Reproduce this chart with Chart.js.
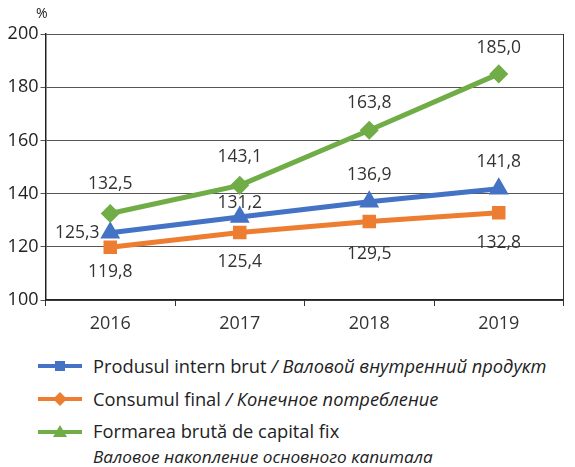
<!DOCTYPE html>
<html>
<head>
<meta charset="utf-8">
<script src="https://cdn.jsdelivr.net/npm/chart.js@4/dist/chart.umd.min.js"></script>
<style>
  html, body { margin: 0; padding: 0; background: #fff; }
  body { width: 575px; height: 467px; position: relative; overflow: hidden; font-family: "Open Sans", "Noto Sans", sans-serif; color: #222; }
  #wrap { position: absolute; left: 0; top: 0; width: 575px; height: 345px; }
  #pct { position: absolute; left: 36px; top: 3px; font-size: 14px; color: #222; }
  .leg { position: absolute; left: 38px; display: flex; align-items: center; font-size: 18.3px; color: #222; white-space: nowrap; }
  .leg svg { margin-right: 11px; }
  .leg i { font-style: italic; }
  #l4 { position: absolute; left: 93px; top: 445px; font-size: 17.2px; font-style: italic; color: #222; white-space: nowrap; }
</style>
</head>
<body>
<div id="wrap"><canvas id="c" width="575" height="345"></canvas></div>
<div id="pct">%</div>
<div class="leg" style="top:353px">
  <svg width="44" height="14"><line x1="0" y1="7" x2="44" y2="7" stroke="#4472C4" stroke-width="4"/><rect x="17" y="2" width="10" height="10" fill="#4472C4"/></svg>
  <span>Produsul intern brut <i>/ Валовой внутренний продукт</i></span>
</div>
<div class="leg" style="top:386px">
  <svg width="44" height="14"><line x1="0" y1="7" x2="44" y2="7" stroke="#ED7D31" stroke-width="4"/><polygon points="22,0 29,7 22,14 15,7" fill="#ED7D31"/></svg>
  <span>Consumul final <i>/ Конечное потребление</i></span>
</div>
<div class="leg" style="top:418px">
  <svg width="44" height="14"><line x1="0" y1="8" x2="44" y2="8" stroke="#70AD47" stroke-width="4"/><polygon points="22,1 29,13 15,13" fill="#70AD47"/></svg>
  <span>Formarea brută de capital fix</span>
</div>
<div id="l4">Валовое накопление основного капитала</div>
<script>
const years = ['2016', '2017', '2018', '2019'];
const pib = [125.3, 131.2, 136.9, 141.8];
const consum = [119.8, 125.4, 129.5, 132.8];
const fbcf = [132.5, 143.1, 163.8, 185.0];
const yTicks = [100, 120, 140, 160, 180, 200];

const fmt = v => v.toFixed(1).replace('.', ',');
const FONT = '"Open Sans", "Noto Sans", sans-serif';

const labelPlugin = {
  id: 'valLabels',
  afterDatasetsDraw(chart) {
    const ctx = chart.ctx;
    ctx.save();
    ctx.font = '17.5px ' + FONT;
    ctx.fillStyle = '#333';
    ctx.textBaseline = 'middle';
    chart.data.datasets.forEach((ds, di) => {
      const meta = chart.getDatasetMeta(di);
      meta.data.forEach((pt, i) => {
        const pos = ds.labelPos[i];
        let x = pt.x, y = pt.y;
        ctx.textAlign = 'center';
        if (pos.left) { x -= pos.left; }
        y += pos.dy;
        ctx.fillText(fmt(ds.data[i]), x, y);
      });
    });
    ctx.restore();
  }
};

new Chart(document.getElementById('c'), {
  type: 'line',
  data: {
    labels: years,
    datasets: [
      {
        label: 'Formarea brută de capital fix',
        data: fbcf,
        borderColor: '#70AD47', backgroundColor: '#70AD47',
        borderWidth: 5, pointStyle: 'rectRot', pointRadius: 6, pointHoverRadius: 6,
        labelPos: [{dy: -30}, {dy: -28}, {dy: -27}, {dy: -26}]
      },
      {
        label: 'Produsul intern brut',
        data: pib,
        borderColor: '#4472C4', backgroundColor: '#4472C4',
        borderWidth: 5, pointStyle: 'triangle', pointRadius: 6.5, pointHoverRadius: 6.5,
        labelPos: [{dy: 0, left: 33}, {dy: -14}, {dy: -27}, {dy: -27}]
      },
      {
        label: 'Consumul final',
        data: consum,
        borderColor: '#ED7D31', backgroundColor: '#ED7D31',
        borderWidth: 5, pointStyle: 'rect', pointRadius: 6, pointHoverRadius: 6,
        labelPos: [{dy: 25}, {dy: 30}, {dy: 32}, {dy: 30}]
      }
    ]
  },
  options: {
    responsive: false,
    animation: false,
    events: [],
    layout: { padding: { top: 34, left: 0, right: 0, bottom: 0 } },
    plugins: { legend: { display: false }, tooltip: { enabled: false } },
    scales: {
      x: {
        offset: true,
        grid: { drawOnChartArea: false, tickLength: 6, color: '#333', offset: true },
        border: { color: '#222', width: 1.5 },
        ticks: { color: '#333', font: { size: 18, family: FONT }, padding: 7 },
        afterFit: s => { s.height = 45; }
      },
      y: {
        min: 100, max: 200,
        afterBuildTicks: s => { s.ticks = yTicks.map(v => ({ value: v })); },
        grid: { color: '#555', tickLength: 5, lineWidth: 1 },
        border: { color: '#222', width: 1.5 },
        ticks: { color: '#222', font: { size: 18, family: FONT }, padding: 2 },
        afterFit: s => { s.width = 45.5; }
      },
      y2: {
        position: 'right',
        min: 100, max: 200,
        grid: { display: false },
        border: { display: true, color: '#333', width: 1 },
        ticks: { display: false },
        afterFit: s => { s.width = 6; }
      }
    }
  },
  plugins: [labelPlugin]
});
</script>
</body>
</html>
